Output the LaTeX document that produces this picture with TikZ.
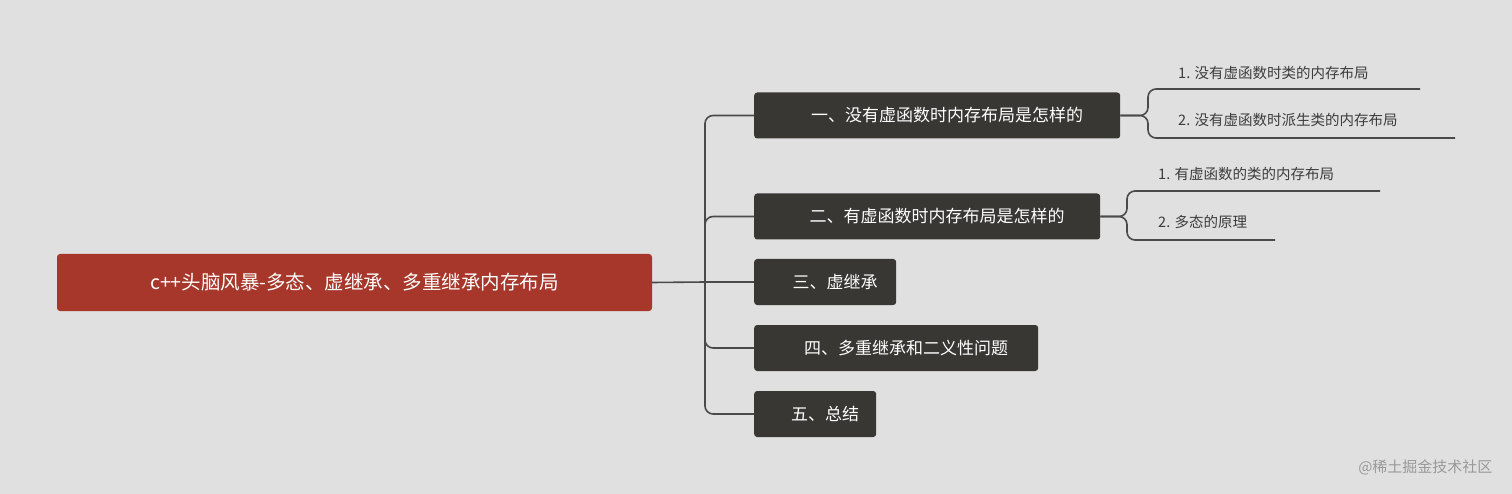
\documentclass[tikz,border=0pt]{standalone}
\usepackage{fontspec}
\setmainfont{Noto Sans CJK SC}
\begin{document}
\begin{tikzpicture}[x=1pt,y=-1pt,
  box/.style={fill=boxc,rounded corners=3pt,text=white,font=\fontsize{17}{20}\selectfont,anchor=west,inner xsep=0pt,minimum height=46pt},
  leaf/.style={text=leafc,font=\fontsize{14.5}{17}\selectfont,anchor=west,inner sep=0pt},
  con/.style={draw=linec,line width=1.6pt,rounded corners=8pt}]
\definecolor{bg}{HTML}{E0E0E0}
\definecolor{boxc}{HTML}{383734}
\definecolor{rootc}{HTML}{A6372A}
\definecolor{linec}{HTML}{4A4A4A}
\definecolor{leafc}{HTML}{3C3C3C}
\fill[bg] (0,0) rectangle (1512,494);
\useasboundingbox (0,0) rectangle (1512,494);
\node[fill=rootc,rounded corners=3pt,text=white,font=\fontsize{19.5}{22}\selectfont,minimum width=595pt,minimum height=57pt,inner sep=0pt] (root) at (354.5,282.5) {c++头脑风暴-多态、虚继承、多重继承内存布局};
\node[box,minimum width=366pt] (b1) at (754,115.5) {\hspace{20pt}一、没有虚函数时内存布局是怎样的\hfill};
\node[box,minimum width=346pt] (b2) at (754,216.5) {\hspace{20pt}二、有虚函数时内存布局是怎样的\hfill};
\node[box,minimum width=142pt] (b3) at (754,282) {\hspace{20pt}三、虚继承\hfill};
\node[box,minimum width=284pt] (b4) at (754,348) {\hspace{20pt}四、多重继承和二义性问题\hfill};
\node[box,minimum width=122pt] (b5) at (754,414) {\hspace{20pt}五、总结\hfill};
\coordinate (sp) at (705,282);
\draw[con] (root.east) -- (sp);
\draw[con] (b3.west) -- (sp);
\draw[con] (b1.west) -- (705,115.5) -- (705,282);
\draw[con] (b2.west) -- (705,216.5) -- (705,282);
\draw[con] (b4.west) -- (705,348) -- (705,282);
\draw[con] (b5.west) -- (705,414) -- (705,282);
\node[leaf] (l1) at (1178,73) {1. 没有虚函数时类的内存布局};
\node[leaf] (l2) at (1178,120) {2. 没有虚函数时派生类的内存布局};
\node[leaf] (l3) at (1158,174) {1. 有虚函数的类的内存布局};
\node[leaf] (l4) at (1158,222) {2. 多态的原理};
\coordinate (l1e) at (1420,89); \coordinate (l2e) at (1455,138);
\coordinate (l3e) at (1380,191); \coordinate (l4e) at (1275,240);
\draw[con] (b1.east) -- (1148,115.5) -- (1148,89) -- (l1e);
\draw[con] (b1.east) -- (1148,115.5) -- (1148,138) -- (l2e);
\draw[con] (b2.east) -- (1127,216.5) -- (1127,191) -- (l3e);
\draw[con] (b2.east) -- (1127,216.5) -- (1127,240) -- (l4e);
\node[text=gray!80,font=\fontsize{15}{18}\selectfont,anchor=east] (wm) at (1496,467) {@稀土掘金技术社区};
\end{tikzpicture}
\end{document}
